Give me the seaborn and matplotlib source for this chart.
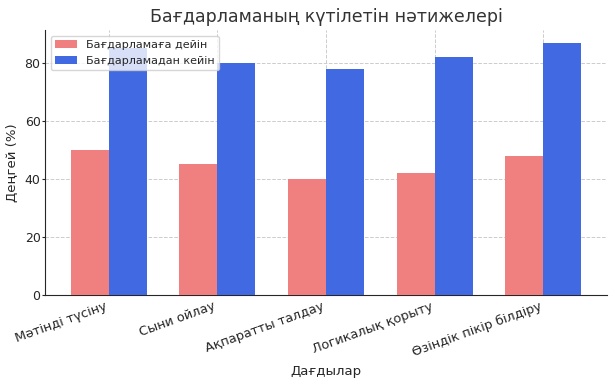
import matplotlib
matplotlib.use("Agg")
import matplotlib.pyplot as plt
import seaborn as sns
import pandas as pd

categories = ["Мәтінді түсіну", "Сыни ойлау", "Ақпаратты талдау", "Логикалық қорыту", "Өзіндік пікір білдіру"]
before = [50, 45, 40, 42, 48]
after = [85, 80, 78, 82, 87]
series_names = ["Бағдарламаға дейін", "Бағдарламадан кейін"]
colors = ["#F08080", "#4169E1"]

df = pd.DataFrame({
    "cat": categories * 2,
    "val": before + after,
    "series": [series_names[0]] * len(categories) + [series_names[1]] * len(categories),
})

sns.set_style("ticks")
plt.rcParams["font.family"] = ["DejaVu Sans"]

fig, ax = plt.subplots(figsize=(6.15, 3.84), dpi=100)
sns.barplot(data=df, x="cat", y="val", hue="series", palette=colors, width=0.7,
            gap=0, saturation=1, ax=ax, zorder=3, linewidth=0, edgecolor="none")
ax.grid(True, linestyle="--", color="#cccccc", linewidth=0.7, zorder=0)
ax.set_axisbelow(True)
sns.despine(ax=ax)
ax.set_title("Бағдарламаның күтілетін нәтижелері", fontsize=12.5, color="#333333")
ax.set_xlabel("Дағдылар", fontsize=9.5)
ax.set_ylabel("Деңгей (%)", fontsize=9.5)
plt.setp(ax.get_xticklabels(), rotation=20, ha="right", fontsize=9.3)
ax.tick_params(axis="x", length=0, pad=3.5)
ax.tick_params(axis="y", labelsize=9, length=2, pad=1.2)
ax.margins(x=0.05)
ax.set_ylim(0, 91.35)
leg = ax.legend(loc="upper left", fontsize=8, title=None)
for p in leg.get_patches():
    p.set_edgecolor("none")
fig.subplots_adjust(left=45 / 615, right=607 / 615, top=1 - 30 / 384, bottom=1 - 295 / 384)
fig.savefig("out.png", dpi=100)
